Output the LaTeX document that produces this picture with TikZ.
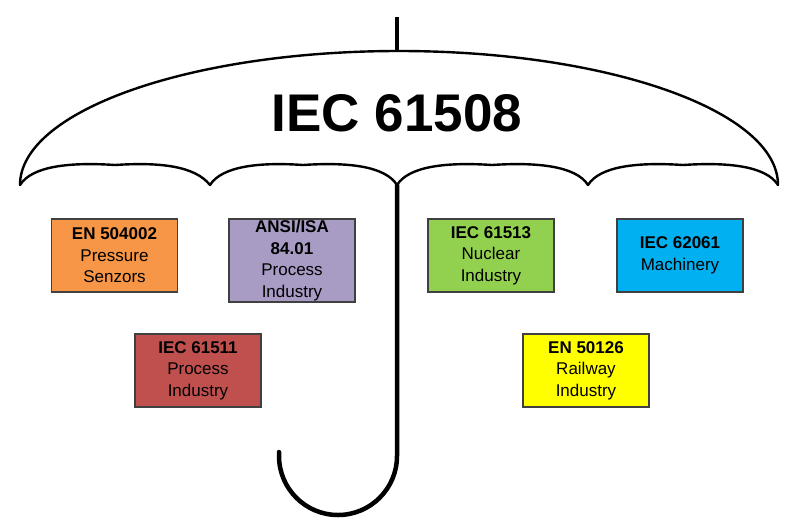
\documentclass[tikz,border=0pt]{standalone}
\usepackage{fontspec}
\setmainfont{Liberation Sans}
\begin{document}
\begin{tikzpicture}[x=1pt,y=-1pt,
  stdbox/.style={draw=black!75, line width=1.2pt, minimum width=126pt, minimum height=73pt,
    align=center, inner sep=0pt, font=\fontsize{17}{21.5}\selectfont},
  canopy/.style={line width=2.4pt, line join=round, line cap=round},
  shaft/.style={line width=4.5pt, line cap=round}]
\useasboundingbox (0,0) rectangle (795,531);
% top stick
\coordinate (tip) at (397,17);
\coordinate (top) at (397,52);
\draw[line width=4pt] (tip) -- (top);
% canopy outline
\coordinate (cL) at (20,185);
\coordinate (c1) at (210,185);
\coordinate (c2) at (397,185);
\coordinate (c3) at (588,185);
\coordinate (cR) at (778,185);
\draw[canopy] (cL) arc[start angle=180, end angle=0, x radius=379pt, y radius=134pt];
\draw[canopy] (cL) .. controls (32,166) and (70,162) .. (115,165)
      .. controls (160,162) and (195,166) .. (c1)
      .. controls (222,166) and (260,162) .. (303,165)
      .. controls (348,162) and (385,166) .. (c2)
      .. controls (409,166) and (447,162) .. (492,165)
      .. controls (537,162) and (576,166) .. (c3)
      .. controls (600,166) and (638,162) .. (683,165)
      .. controls (728,162) and (766,166) .. (cR);
% shaft and handle
\coordinate (hs) at (397,456);
\coordinate (he) at (279,452);
\draw[shaft] (c2) -- (hs) arc[start angle=0, end angle=-180, radius=59pt] -- (he);
% title
\node (title) at (397,113) {\fontsize{53}{60}\selectfont\bfseries IEC 61508};
% boxes
\node[stdbox, fill={rgb,255:red,247;green,150;blue,70}] (en504) at (114.5,255.5)
  {\textbf{EN 504002}\\Pressure\\Senzors};
\node[stdbox, fill={rgb,255:red,168;green,156;blue,197}, minimum height=83pt] (ansi) at (292,260.5)
  {\textbf{ANSI/ISA}\\\textbf{84.01}\\Process\\Industry};
\node[stdbox, fill={rgb,255:red,192;green,80;blue,77}] (iec61511) at (198,370.5)
  {\textbf{IEC 61511}\\Process\\Industry};
\node[stdbox, fill={rgb,255:red,146;green,208;blue,80}] (iec61513) at (491,255.5)
  {\textbf{IEC 61513}\\Nuclear\\Industry};
\node[stdbox, fill={rgb,255:red,0;green,176;blue,240}] (iec62061) at (680,255.5)
  {\textbf{IEC 62061}\\Machinery};
\node[stdbox, fill={rgb,255:red,255;green,255;blue,0}] (en50126) at (586,370.5)
  {\textbf{EN 50126}\\Railway\\Industry};
\end{tikzpicture}
\end{document}
